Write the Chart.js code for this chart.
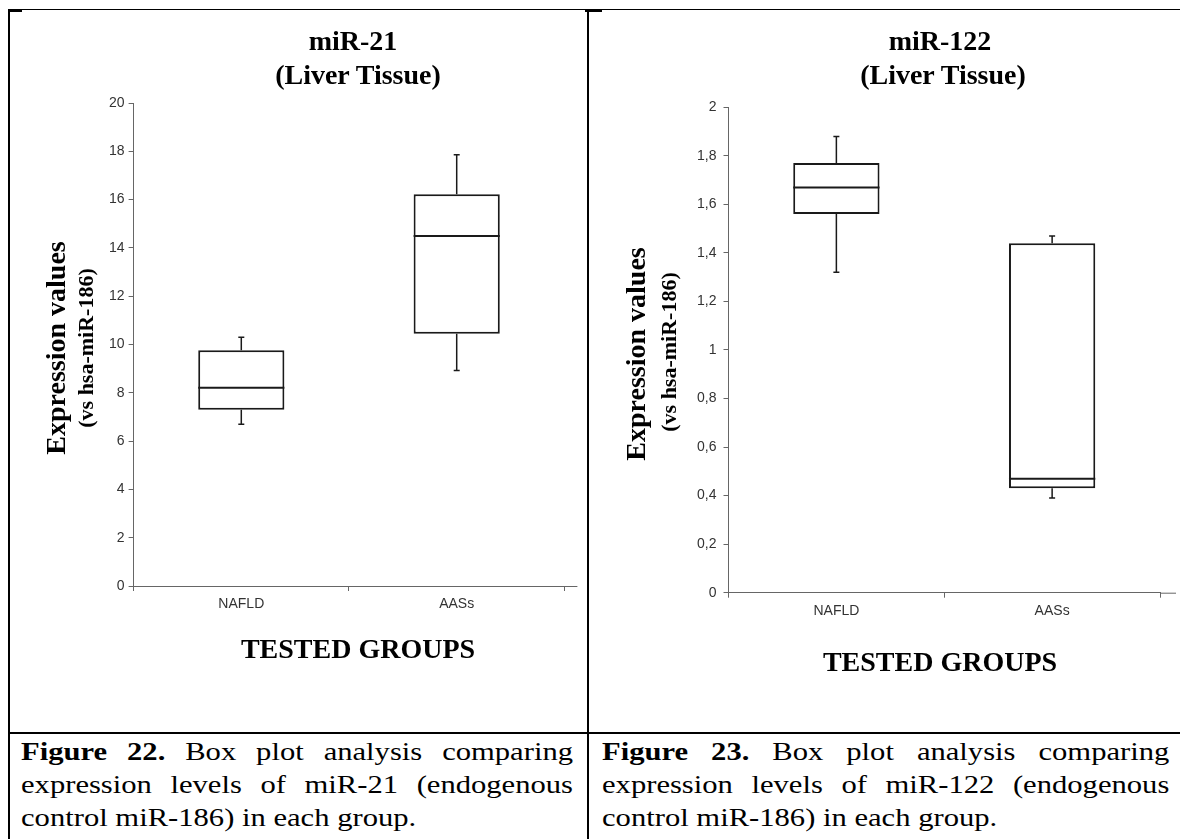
<!DOCTYPE html>
<html lang="en">
<head>
<meta charset="UTF-8">
<title>miR-21 and miR-122 box plots</title>
<script src="https://cdn.jsdelivr.net/npm/chart.js@4.4.1/dist/chart.umd.min.js"></script>
<style>
    body {
        margin: 0;
        background: #fff;
        font-family: 'Liberation Serif', 'Times New Roman', serif;
        color: #000;
    }
    #page {
        position: relative;
        width: 1180px;
        height: 839px;
        overflow: hidden;
    }
    .rule {
        position: absolute;
        background: #000;
    }
    .lbl {
        position: absolute;
        font-weight: bold;
        white-space: nowrap;
        line-height: 1;
        transform: translate(-50%, -50%);
    }
    .big { font-size: 28px; }
    .small { font-size: 22px; }
    .rot { transform: translate(-50%, -50%) rotate(-90deg); }
    canvas { position: absolute; top: 0; }
    .caption {
        position: absolute;
        top: 735px;
        font-size: 26px;
        line-height: 33px;
        transform: scaleX(1.177);
        transform-origin: 0 0;
    }
    .caption .j {
        text-align: justify;
        text-align-last: justify;
    }
</style>
</head>
<body>
<div id="page">
    <!-- table rules -->
    <div class="rule" style="left:8px; top:9px; width:1172px; height:1px;"></div>
    <div class="rule" style="left:8px; top:9px; width:14px; height:3px;"></div>
    <div class="rule" style="left:585px; top:9px; width:17px; height:3px;"></div>
    <div class="rule" style="left:8px; top:9px; width:2px; height:830px;"></div>
    <div class="rule" style="left:587px; top:9px; width:2px; height:830px;"></div>
    <div class="rule" style="left:8px; top:732px; width:1172px; height:2px;"></div>

    <!-- left panel -->
    <canvas id="chart21" width="588" height="700" style="left:0;"></canvas>
    <div class="lbl big" style="left:353px; top:41px;">miR-21</div>
    <div class="lbl big" style="left:358px; top:75px;">(Liver Tissue)</div>
    <div class="lbl big rot" style="left:56px; top:348px;">Expression values</div>
    <div class="lbl small rot" style="left:86px; top:348px;">(vs hsa-miR-186)</div>
    <div class="lbl big" style="left:358px; top:649px;">TESTED GROUPS</div>

    <!-- right panel -->
    <canvas id="chart122" width="590" height="700" style="left:590px;"></canvas>
    <div class="lbl big" style="left:940px; top:41px;">miR-122</div>
    <div class="lbl big" style="left:943px; top:75px;">(Liver Tissue)</div>
    <div class="lbl big rot" style="left:636px; top:354px;">Expression values</div>
    <div class="lbl small rot" style="left:669px; top:352px;">(vs hsa-miR-186)</div>
    <div class="lbl big" style="left:940px; top:662px;">TESTED GROUPS</div>

    <!-- captions (typeset narrow, then widened) -->
    <div class="caption" style="left:21px; width:469px;">
        <div class="j"><b>Figure 22.</b> Box plot analysis comparing</div>
        <div class="j">expression levels of miR-21 (endogenous</div>
        <div>control miR-186) in each group.</div>
    </div>
    <div class="caption" style="left:602px; width:482px;">
        <div class="j"><b>Figure 23.</b> Box plot analysis comparing</div>
        <div class="j">expression levels of miR-122 (endogenous</div>
        <div>control miR-186) in each group.</div>
    </div>
</div>

<script>
const groups = ['NAFLD', 'AASs'];

// miR-21 (liver tissue): whisker ends, quartiles and median per group
const mir21Min = [6.70, 8.92];
const mir21Q1 = [7.30, 10.45];
const mir21Median = [8.21, 14.49];
const mir21Q3 = [9.76, 16.22];
const mir21Max = [10.30, 17.86];

// miR-122 (liver tissue)
const mir122Min = [1.32, 0.39];
const mir122Q1 = [1.56, 0.43];
const mir122Median = [1.67, 0.47];
const mir122Q3 = [1.77, 1.44];
const mir122Max = [1.88, 1.47];

Chart.defaults.font.family = "'Liberation Sans', Arial, sans-serif";
Chart.defaults.font.size = 14;
Chart.defaults.color = '#333333';

const axisColor = '#666666';

// median line and whiskers on top of the floating bars
const boxWhiskers = {
    id: 'boxWhiskers',
    afterDatasetsDraw(chart, args, opts) {
        const ctx = chart.ctx;
        const y = chart.scales.y;
        const meta = chart.getDatasetMeta(0);
        ctx.save();
        ctx.strokeStyle = '#1a1a1a';
        meta.data.forEach((bar, i) => {
            const half = bar.width / 2;
            const yMed = y.getPixelForValue(opts.median[i]);
            const yQ1 = y.getPixelForValue(opts.q1[i]);
            const yQ3 = y.getPixelForValue(opts.q3[i]);
            const yMin = y.getPixelForValue(opts.min[i]);
            const yMax = y.getPixelForValue(opts.max[i]);

            ctx.lineWidth = 2;
            ctx.beginPath();
            ctx.moveTo(bar.x - half, yMed);
            ctx.lineTo(bar.x + half, yMed);
            ctx.stroke();

            ctx.lineWidth = 1.5;
            ctx.beginPath();
            ctx.moveTo(bar.x, yQ3);
            ctx.lineTo(bar.x, yMax);
            ctx.moveTo(bar.x - 3, yMax);
            ctx.lineTo(bar.x + 3, yMax);
            ctx.moveTo(bar.x, yQ1);
            ctx.lineTo(bar.x, yMin);
            ctx.moveTo(bar.x - 3, yMin);
            ctx.lineTo(bar.x + 3, yMin);
            ctx.stroke();
        });
        ctx.restore();
    }
};

// x axis runs a little past the last category tick
const axisTail = {
    id: 'axisTail',
    afterDraw(chart, args, opts) {
        const ctx = chart.ctx;
        const a = chart.chartArea;
        ctx.save();
        ctx.strokeStyle = axisColor;
        ctx.lineWidth = 1;
        ctx.beginPath();
        ctx.moveTo(a.right, a.bottom + 0.5);
        ctx.lineTo(a.right + opts.length, a.bottom + 0.5);
        ctx.stroke();
        ctx.restore();
    }
};

function commaLabel(v) {
    return String(Number(v.toFixed(1))).replace('.', ',');
}

function makeBoxChart(canvasId, stats, yMax, yStep, yWidth, yPad, pad, tail) {
    return new Chart(document.getElementById(canvasId), {
        type: 'bar',
        data: {
            labels: groups,
            datasets: [{
                data: groups.map((g, i) => [stats.q1[i], stats.q3[i]]),
                backgroundColor: '#ffffff',
                borderColor: '#1a1a1a',
                borderWidth: 2,
                borderSkipped: false,
                barPercentage: 0.4,
                categoryPercentage: 1
            }]
        },
        options: {
            responsive: false,
            animation: false,
            layout: { padding: pad },
            plugins: {
                legend: { display: false },
                tooltip: { enabled: false },
                boxWhiskers: stats,
                axisTail: { length: tail }
            },
            scales: {
                x: {
                    grid: { offset: true, drawOnChartArea: false, tickLength: 5, color: axisColor },
                    border: { color: axisColor, width: 1 },
                    ticks: { padding: 5, maxRotation: 0 },
                    afterFit(scale) { scale.height = 30; }
                },
                y: {
                    min: 0,
                    max: yMax,
                    grid: { drawOnChartArea: false, tickLength: 5, color: axisColor },
                    border: { color: axisColor, width: 1 },
                    ticks: { stepSize: yStep, padding: yPad, callback: commaLabel },
                    afterFit(scale) { scale.width = yWidth; }
                }
            }
        },
        plugins: [boxWhiskers, axisTail]
    });
}

makeBoxChart('chart21', {
    min: mir21Min, q1: mir21Q1, median: mir21Median, q3: mir21Q3, max: mir21Max
}, 20, 2, 35, 4, { top: 103, left: 98.6, right: 23.6, bottom: 84 }, 13);

makeBoxChart('chart122', {
    min: mir122Min, q1: mir122Q1, median: mir122Median, q3: mir122Q3, max: mir122Max
}, 2, 0.2, 40, 7, { top: 107.3, left: 98.5, right: 20, bottom: 77.3 }, 16);
</script>
</body>
</html>
